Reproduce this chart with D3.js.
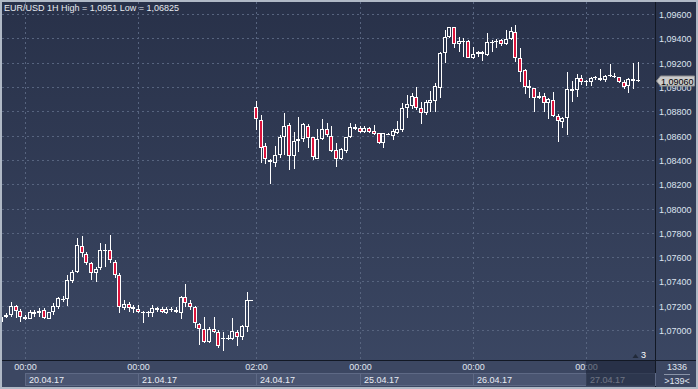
<!DOCTYPE html>
<html><head><meta charset="utf-8">
<script src="https://cdn.jsdelivr.net/npm/d3@7"></script>
<style>html,body{margin:0;padding:0;background:#2e3852;overflow:hidden}svg{display:block;font-family:"Liberation Sans",Arial,sans-serif}</style>
</head><body><svg id="c" width="698" height="389"></svg>
<script>
// ---- data (EUR/USD hourly candles) ----
const open  = [1.07068,1.07105,1.07123,1.07198,1.07156,1.07093,1.07093,1.07132,1.07142,1.07165,1.07093,1.07146,1.07192,1.07251,1.07258,1.07403,1.07475,1.07691,1.07625,1.07549,1.07467,1.07508,1.07653,1.07658,1.07562,1.07453,1.07179,1.07212,1.07192,1.07170,1.07142,1.07142,1.07137,1.07165,1.07170,1.07137,1.07168,1.07165,1.07142,1.07269,1.07220,1.07187,1.07047,1.07006,1.06904,1.07006,1.06981,1.06923,1.06923,1.06926,1.06981,1.06945,1.07027,1.07241,
1.08833,1.08728,1.08514,1.08399,1.08377,1.08440,1.08586,1.08687,1.08432,1.08553,1.08569,1.08681,1.08586,1.08410,1.08569,1.08652,1.08599,1.08481,1.08405,1.08476,1.08586,1.08673,1.08660,1.08632,1.08660,1.08640,1.08619,1.08541,1.08609,1.08597,1.08624,1.08646,1.08825,1.08844,1.08920,1.08825,1.08783,1.08871,1.08887,1.08989,1.09277,1.09409,1.09491,1.09351,1.09370,1.09379,1.09241,1.09269,1.09286,1.09263,1.09360,1.09368,1.09387,1.09354,1.09395,1.09450,1.09241,1.09140,1.09011,1.08989,1.08907,1.08926,1.08866,1.08893,1.08764,1.08714,1.08742,1.08970,1.08975,1.09072,1.09039,1.09039,1.09072,1.09072,1.09058,1.09091,1.09093,1.09080,1.09044,1.09008,1.09052,1.09053];
const high  = [1.07107,1.07137,1.07230,1.07206,1.07170,1.07123,1.07165,1.07165,1.07179,1.07179,1.07151,1.07220,1.07269,1.07280,1.07453,1.07494,1.07755,1.07774,1.07644,1.07562,1.07521,1.07714,1.07708,1.07782,1.07576,1.07467,1.07247,1.07233,1.07206,1.07206,1.07159,1.07159,1.07206,1.07192,1.07187,1.07187,1.07187,1.07187,1.07280,1.07379,1.07247,1.07198,1.07060,1.07109,1.07027,1.07109,1.07000,1.06986,1.06959,1.07096,1.07000,1.07041,1.07315,1.07247,
1.08887,1.08769,1.08541,1.08405,1.08514,1.08605,1.08783,1.08701,1.08632,1.08755,1.08706,1.08695,1.08591,1.08652,1.08734,1.08701,1.08681,1.08537,1.08495,1.08591,1.08706,1.08693,1.08679,1.08679,1.08673,1.08687,1.08624,1.08624,1.08624,1.08652,1.08723,1.08866,1.08934,1.08948,1.08998,1.08879,1.08893,1.08967,1.09030,1.09291,1.09469,1.09496,1.09496,1.09414,1.09401,1.09387,1.09332,1.09296,1.09296,1.09442,1.09387,1.09395,1.09395,1.09469,1.09496,1.09510,1.09323,1.09146,1.09058,1.08994,1.08956,1.08948,1.08912,1.08961,1.08775,1.08755,1.09126,1.09052,1.09107,1.09099,1.09058,1.09080,1.09091,1.09146,1.09099,1.09189,1.09113,1.09085,1.09058,1.09072,1.09195,1.09208];
const low   = [1.07066,1.07096,1.07109,1.07096,1.07068,1.07082,1.07088,1.07109,1.07109,1.07088,1.07088,1.07123,1.07170,1.07233,1.07198,1.07384,1.07467,1.07603,1.07535,1.07412,1.07398,1.07494,1.07521,1.07549,1.07426,1.07142,1.07165,1.07151,1.07137,1.07142,1.07060,1.07109,1.07109,1.07151,1.07137,1.07129,1.07151,1.07137,1.07088,1.07192,1.07165,1.07014,1.06877,1.06895,1.06891,1.06973,1.06849,1.06825,1.06918,1.06918,1.06868,1.06918,1.06986,1.07241,
1.08646,1.08372,1.08366,1.08202,1.08344,1.08413,1.08440,1.08317,1.08323,1.08467,1.08550,1.08495,1.08399,1.08405,1.08564,1.08591,1.08467,1.08339,1.08399,1.08459,1.08578,1.08646,1.08624,1.08624,1.08624,1.08605,1.08531,1.08500,1.08605,1.08564,1.08613,1.08632,1.08742,1.08816,1.08811,1.08695,1.08769,1.08797,1.08797,1.08907,1.09195,1.09401,1.09318,1.09291,1.09250,1.09236,1.09230,1.09250,1.09214,1.09258,1.09291,1.09318,1.09340,1.09346,1.09387,1.09208,1.09044,1.08940,1.08907,1.08797,1.08901,1.08797,1.08737,1.08755,1.08550,1.08660,1.08605,1.08879,1.08920,1.09016,1.09008,1.09008,1.09058,1.09049,1.09044,1.09085,1.09072,1.09030,1.08984,1.08953,1.08981,1.09044];
const close = [1.07105,1.07123,1.07198,1.07156,1.07105,1.07105,1.07146,1.07146,1.07156,1.07096,1.07146,1.07198,1.07261,1.07258,1.07412,1.07480,1.07700,1.07631,1.07549,1.07467,1.07500,1.07658,1.07661,1.07576,1.07453,1.07187,1.07214,1.07179,1.07170,1.07151,1.07151,1.07146,1.07179,1.07179,1.07151,1.07170,1.07171,1.07151,1.07269,1.07220,1.07187,1.07055,1.07006,1.06904,1.07006,1.06986,1.06868,1.06932,1.06932,1.06992,1.06945,1.07033,1.07247,1.07247,
1.08734,1.08500,1.08405,1.08383,1.08440,1.08586,1.08679,1.08432,1.08555,1.08569,1.08693,1.08578,1.08421,1.08569,1.08652,1.08602,1.08476,1.08410,1.08487,1.08586,1.08673,1.08657,1.08632,1.08660,1.08632,1.08611,1.08537,1.08619,1.08612,1.08638,1.08654,1.08825,1.08860,1.08926,1.08825,1.08788,1.08879,1.08893,1.09008,1.09277,1.09409,1.09491,1.09354,1.09379,1.09379,1.09241,1.09269,1.09286,1.09269,1.09368,1.09368,1.09379,1.09351,1.09395,1.09461,1.09241,1.09126,1.09002,1.08989,1.08907,1.08926,1.08866,1.08901,1.08764,1.08720,1.08742,1.08981,1.08981,1.09072,1.09039,1.09049,1.09072,1.09080,1.09058,1.09091,1.09099,1.09080,1.09044,1.08998,1.09063,1.09063,1.09060];
const yTicks = [1.070,1.072,1.074,1.076,1.078,1.080,1.082,1.084,1.086,1.088,1.090,1.092,1.094,1.096];
const dayLabels = ["20.04.17","21.04.17","24.04.17","25.04.17","26.04.17","27.04.17"];
const dayTimes  = ["00:00","00:00","02:00","00:00","00:00","00:00"];
const dayIndex  = [5,29,54,76,100,124];
const titleText = "EUR/USD 1H High = 1,0951 Low = 1,06825";
const lastPrice = 1.0906;
const barsTotal = "1336", barsShown = ">139<", pageText = "3";

// ---- layout ----
const W=698,H=389, pL=2, pR=655, pT=2, pB=360;
const svg=d3.select("#c");
const defs=svg.append("defs");
const g=defs.append("linearGradient").attr("id","bg").attr("x1",0).attr("y1",0).attr("x2",0).attr("y2",1);
g.append("stop").attr("offset","0%").attr("stop-color","#283149");
g.append("stop").attr("offset","100%").attr("stop-color","#3c4864");
defs.append("clipPath").attr("id","clip").append("rect").attr("x",pL).attr("y",pT).attr("width",pR-pL).attr("height",pB-pT);

svg.append("rect").attr("width",W).attr("height",H).attr("fill","url(#bg)");
svg.append("rect").attr("x",0).attr("y",pB).attr("width",W).attr("height",H-pB).attr("fill","#3c4762");

const n=open.length;
const x=d3.scaleLinear().domain([0,n-1]).range([1.43,637.8]);
const y=d3.scaleLinear().domain([1.070,1.096]).range([330,14.1]);
const fmt=v=>d3.format(".5f")(v).replace(".",",");

// grid
const grid=svg.append("g").attr("stroke","#57647f").attr("stroke-dasharray","2,3").attr("stroke-width",1);
yTicks.forEach(t=>{const yy=Math.round(y(t))+0.5;grid.append("line").attr("x1",pL).attr("x2",pR).attr("y1",yy).attr("y2",yy);});
dayIndex.forEach(i=>{const xx=Math.round(x(i))+0.5;grid.append("line").attr("x1",xx).attr("x2",xx).attr("y1",pT).attr("y2",pB);});

// candles
const cg=svg.append("g").attr("clip-path","url(#clip)");
d3.range(n).forEach(i=>{
  const cx=Math.round(x(i));
  const o=open[i],c=close[i],hi=high[i],lo=low[i];
  const up=c>=o;
  let top=Math.round(y(Math.max(o,c))), bot=Math.round(y(Math.min(o,c)));
  if(bot-top<1) bot=top+1;
  const yh=Math.round(y(hi)), yl=Math.round(y(lo));
  if(yh<top) cg.append("line").attr("x1",cx+0.5).attr("x2",cx+0.5).attr("y1",yh).attr("y2",top).attr("stroke","#fff");
  if(yl>bot) cg.append("line").attr("x1",cx+0.5).attr("x2",cx+0.5).attr("y1",bot).attr("y2",yl).attr("stroke","#fff");
  cg.append("rect").attr("x",cx-1.5).attr("y",top+0.5).attr("width",3).attr("height",Math.max(bot-top-1,0.01))
    .attr("fill",up?"none":"#dc143c").attr("stroke","#fff").attr("stroke-width",1);
});

// title
svg.append("text").attr("x",4).attr("y",11).attr("font-size",9).attr("fill","#e6e9ef").text(titleText);

// right axis
yTicks.forEach(t=>{svg.append("text").attr("x",659).attr("y",Math.round(y(t))+3.5).attr("font-size",9).attr("fill","#dde4f0").text(fmt(t));});

// separators
svg.append("line").attr("x1",0).attr("x2",W).attr("y1",pB+0.5).attr("y2",pB+0.5).attr("stroke","#121824");
svg.append("line").attr("x1",pR+0.5).attr("x2",pR+0.5).attr("y1",0).attr("y2",H).attr("stroke","#121824");

// price label
const py=Math.round(y(lastPrice))+1;
svg.append("path").attr("d",`M656.5,${py} L660.5,${py-5} L694.5,${py-5} L694.5,${py+5} L660.5,${py+5} Z`).attr("fill","#cbcbcb").attr("stroke","#8f8f8f");
svg.append("text").attr("x",661).attr("y",py+3.5).attr("font-size",9).attr("fill","#000").text(fmt(lastPrice));

// bottom axis
const bx=dayIndex.map(i=>Math.round(x(i)));
bx.forEach((xx,k)=>{
  const x1=k<bx.length-1?bx[k+1]:pR;
  svg.append("rect").attr("x",xx+0.5).attr("y",373.5).attr("width",x1-xx).attr("height",12).attr("fill","#4a5571").attr("stroke","#5e6985");
  svg.append("text").attr("x",xx+0.5).attr("y",370).attr("text-anchor","middle").attr("font-size",9).attr("fill","#e0e6f0").text(dayTimes[k]);
  svg.append("text").attr("x",xx+4).attr("y",383).attr("font-size",9).attr("fill","#e8ecf4").text(dayLabels[k]);
});
svg.append("rect").attr("x",bx[bx.length-1]).attr("y",361).attr("width",pR-bx[bx.length-1]).attr("height",25).attr("fill","#1b2337").attr("opacity",0.6);

// page marker
svg.append("path").attr("d","M632.5,358 L638.5,358 L635.5,354 Z").attr("fill","#222a3a");
svg.append("text").attr("x",641).attr("y",358).attr("font-size",9).attr("fill","#fff").text(pageText);

// bar counter
svg.append("text").attr("x",677).attr("y",370).attr("text-anchor","middle").attr("font-size",9).attr("fill","#e0e6f0").text(barsTotal);
svg.append("line").attr("x1",664).attr("x2",690).attr("y1",374.5).attr("y2",374.5).attr("stroke","#8a94a8");
svg.append("text").attr("x",677).attr("y",384).attr("text-anchor","middle").attr("font-size",9).attr("fill","#e0e6f0").text(barsShown);

// frame
svg.append("rect").attr("x",1).attr("y",1).attr("width",W-2).attr("height",H-2).attr("fill","none").attr("stroke","#b0b9c6").attr("stroke-width",2);
</script></body></html>
